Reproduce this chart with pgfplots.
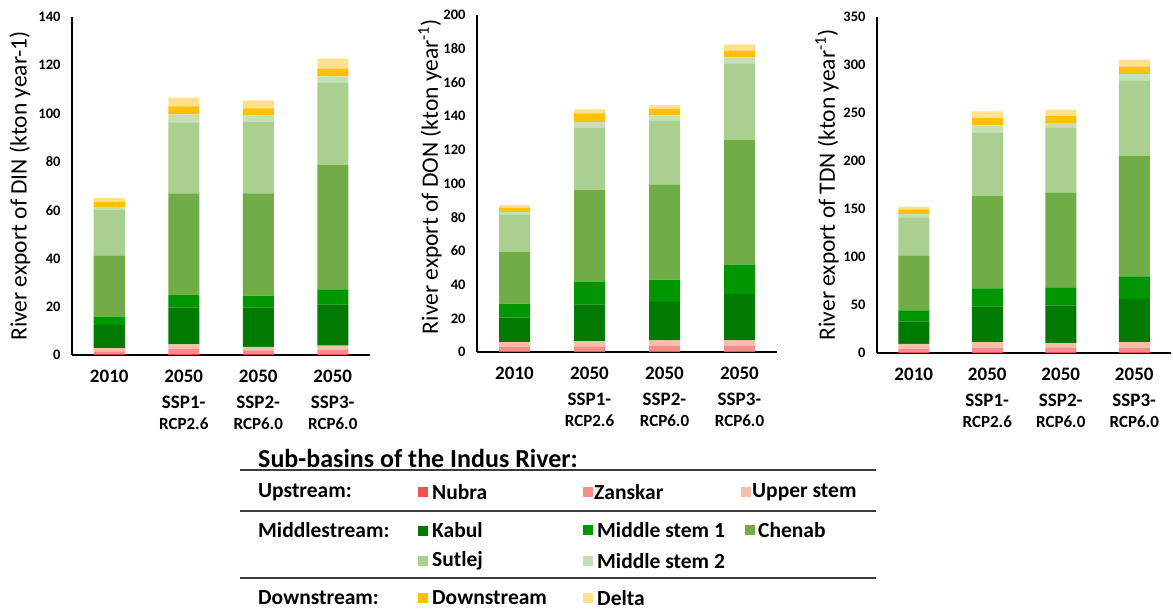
\documentclass[border=0pt]{standalone}
\usepackage{fontspec}
\setmainfont{Carlito}
\usepackage{pgfplots}
\usepackage{pgfplotstable}
\pgfplotsset{compat=1.18}

\definecolor{cNubra}{RGB}{240,80,80}
\definecolor{cZanskar}{RGB}{244,140,140}
\definecolor{cUpper}{RGB}{248,190,172}
\definecolor{cKabul}{RGB}{0,122,0}
\definecolor{cMsOne}{RGB}{0,150,0}
\definecolor{cChenab}{RGB}{112,173,71}
\definecolor{cSutlej}{RGB}{169,208,142}
\definecolor{cMsTwo}{RGB}{198,224,180}
\definecolor{cDown}{RGB}{255,192,0}
\definecolor{cDelta}{RGB}{255,225,140}
\definecolor{cRule}{RGB}{60,60,60}

% component heights (kton/year)
\pgfplotstableread{
x nubra zanskar upper kabul msone chenab sutlej mstwo down delta
0 0.3 1.2 1.3  9.6 3.5 25.2 18.9 1.4 2.0 1.7
1 0.4 2.0 2.0 15.3 5.3 41.9 29.5 3.3 3.3 3.6
2 0.3 1.6 1.5 16.3 4.9 42.3 29.7 2.6 2.9 3.4
3 0.4 1.7 1.8 17.1 6.2 51.4 34.1 2.7 3.2 4.2
}\dintab
\pgfplotstableread{
x nubra zanskar upper kabul msone chenab sutlej mstwo down delta
0 0.5 2.5 2.9 14.5  8.3 30.5 22.0 1.8 2.7 1.4
1 0.5 2.8 3.2 21.8 13.1 54.6 36.9 3.7 5.0 2.4
2 0.5 3.0 3.4 22.8 13.3 56.2 38.0 3.2 4.0 2.1
3 0.5 3.0 3.4 27.4 17.6 73.8 45.6 3.6 3.9 3.8
}\dontab
\pgfplotstableread{
x nubra zanskar upper kabul msone chenab sutlej mstwo down delta
0 0.8 3.8 4.8 23.5 11.5  56.8 40.2 3.4 4.9 2.8
1 0.9 4.8 5.4 37.4 18.7  96.3 65.9 7.6 8.0 6.6
2 0.8 4.6 5.0 39.1 18.4  98.8 68.2 4.9 7.3 6.5
3 0.9 4.8 5.4 45.0 23.6 125.4 79.0 6.3 7.6 7.6
}\tdntab

\newcommand\stackbars[1]{%
 \addplot[fill=cNubra,draw=none] table[x=x,y=nubra]{#1};
 \addplot[fill=cZanskar,draw=none] table[x=x,y=zanskar]{#1};
 \addplot[fill=cUpper,draw=none] table[x=x,y=upper]{#1};
 \addplot[fill=cKabul,draw=none] table[x=x,y=kabul]{#1};
 \addplot[fill=cMsOne,draw=none] table[x=x,y=msone]{#1};
 \addplot[fill=cChenab,draw=none] table[x=x,y=chenab]{#1};
 \addplot[fill=cSutlej,draw=none] table[x=x,y=sutlej]{#1};
 \addplot[fill=cMsTwo,draw=none] table[x=x,y=mstwo]{#1};
 \addplot[fill=cDown,draw=none] table[x=x,y=down]{#1};
 \addplot[fill=cDelta,draw=none] table[x=x,y=delta]{#1};
}

\pgfplotsset{
 panel/.style={
  scale only axis, anchor=south west,
  ybar stacked, bar width=31pt,
  xmin=-0.5, xmax=3.5, ymin=0,
  axis x line=bottom, axis y line=left,
  axis line style={-, line width=1.6pt, black},
  major tick length=0pt,
  xtick={0,1,2,3},
  xticklabels={2010,
   {2050\\[5pt]{\fontsize{19}{21}\selectfont SSP1-}\\[0pt]{\fontsize{17}{19}\selectfont RCP2.6}},
   {2050\\[5pt]{\fontsize{19}{21}\selectfont SSP2-}\\[0pt]{\fontsize{17}{19}\selectfont RCP6.0}},
   {2050\\[5pt]{\fontsize{19}{21}\selectfont SSP3-}\\[0pt]{\fontsize{17}{19}\selectfont RCP6.0}}},
  /pgf/number format/assume math mode=true,
  yticklabel style={font=\bfseries\fontsize{14.5}{17}\selectfont, xshift=-8pt},
  xticklabel style={font=\bfseries\fontsize{19}{21}\selectfont, align=center, yshift=-12pt},
  ylabel style={font=\fontsize{23.5}{27}\selectfont, anchor=center},
  clip=false,
 }
}

\newcommand\legtext[3]{\node[anchor=west, inner sep=0pt, font=\bfseries\fontsize{21.5}{25}\selectfont] at (#1,#2) {#3};}
\newcommand\swatch[3]{\fill[#1] (#2-5,#3-5) rectangle (#2+5,#3+5);}

\begin{document}
\begin{tikzpicture}[x=1pt,y=1pt]
\useasboundingbox (0,0) rectangle (1173,615);

\begin{axis}[panel, at={(72pt,260pt)}, width=298pt, height=338pt,
  ymax=140, ytick={0,20,...,140},
  ylabel={River export of DIN (kton year-1)},
  ylabel style={at={(axis description cs:-0.175,0.5)}}]
\stackbars{\dintab}
\end{axis}

\begin{axis}[panel, at={(477pt,263pt)}, width=300pt, height=337pt,
  ymax=200, ytick={0,20,...,200},
  ylabel={River export of DON (kton year\textsuperscript{-1})},
  ylabel style={at={(axis description cs:-0.157,0.52)}}]
\stackbars{\dontab}
\end{axis}

\begin{axis}[panel, at={(877pt,262pt)}, width=294pt, height=336pt,
  ymax=350, ytick={0,50,...,350},
  ylabel={River export of TDN (kton year\textsuperscript{-1})},
  ylabel style={at={(axis description cs:-0.17,0.5)}}]
\stackbars{\tdntab}
\end{axis}

% legend table
\node[anchor=west, inner sep=0pt, font=\bfseries\fontsize{26}{30}\selectfont] at (258,157) {Sub-basins of the Indus River:};
\draw[cRule, line width=1.5pt] (240,145) -- (876,145);
\draw[cRule, line width=1.5pt] (240,104) -- (876,104);
\draw[cRule, line width=1.5pt] (240,37) -- (876,37);

\legtext{258}{123}{Upstream:}
\swatch{cNubra}{423}{123}\legtext{432}{123}{Nubra}
\swatch{cZanskar}{588}{123}\legtext{594}{123}{Zanskar}
\swatch{cUpper}{746}{123}\legtext{752}{123}{Upper stem}

\legtext{258}{85}{Middlestream:}
\swatch{cKabul}{423}{84}\legtext{432}{85}{Kabul}
\swatch{cMsOne}{588}{85}\legtext{597}{85}{Middle stem 1}
\swatch{cChenab}{750}{85}\legtext{758}{85}{Chenab}

\swatch{cSutlej}{423}{54}\legtext{432}{54}{Sutlej}
\swatch{cMsTwo}{588}{54}\legtext{597}{54}{Middle stem 2}

\legtext{258}{17}{Downstream:}
\swatch{cDown}{423}{17}\legtext{432}{17}{Downstream}
\swatch{cDelta}{588}{17}\legtext{597}{17}{Delta}
\end{tikzpicture}
\end{document}
